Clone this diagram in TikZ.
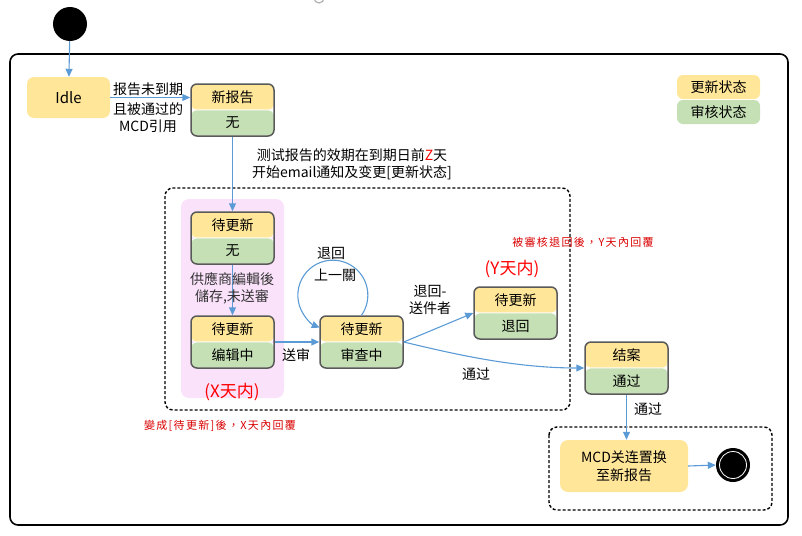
\documentclass[tikz,border=0pt]{standalone}
\usepackage{fontspec}
\setmainfont{Noto Sans CJK SC}
\newfontfamily\tcfont[LetterSpace=12]{Noto Sans CJK TC}
\usetikzlibrary{arrows.meta}
\definecolor{uyel}{RGB}{255,230,153}
\definecolor{ugrn}{RGB}{197,224,180}
\definecolor{ublue}{RGB}{91,155,213}
\definecolor{ugray}{RGB}{89,89,89}
\definecolor{upink}{RGB}{251,226,251}
\definecolor{ured}{RGB}{255,0,0}
\newcommand\usbox[5]{%
  \node[tophalf] (#1t) at (#2,#3-13) {#4};
  \node[bothalf] (#1b) at (#2,#3+13) {#5};
  \node[sbox] (#1) at (#2,#3) {};}
\begin{document}
\begin{tikzpicture}[x=1pt,y=-1pt,
  font=\fontsize{14}{16}\selectfont,
  tophalf/.style={fill=uyel, draw=white, line width=0.8pt, rounded corners=5pt, minimum width=83pt, minimum height=26pt, inner sep=0pt},
  bothalf/.style={fill=ugrn, draw=white, line width=0.8pt, rounded corners=5pt, minimum width=83pt, minimum height=26pt, inner sep=0pt},
  sbox/.style={draw=ugray, line width=1.5pt, rounded corners=6pt, minimum width=83pt, minimum height=52pt, inner sep=0pt},
  arr/.style={draw=ublue, line width=1.1pt, -{Triangle[length=8pt,width=7pt]}},
  region/.style={draw=black, line width=1.4pt, rounded corners=8pt, dash pattern=on 3pt off 2pt},
  lbl/.style={inner sep=0pt, align=center, font=\fontsize{14}{17}\selectfont},
  redbig/.style={inner sep=0pt, text=ured, font=\fontsize{17}{19}\selectfont},
  redsmall/.style={inner sep=0pt, text=ured!85!black, font=\tcfont\fontsize{11}{13}\selectfont},
]
\path[use as bounding box] (0,0) rectangle (802,535);
% top artifact
\draw[gray!60, line width=1.2pt] (319,-2) circle (5pt);
% frames
\draw[black, line width=1.6pt, rounded corners=8pt] (10,54) rectangle (788,525);
\draw[region] (165,188) rectangle (570,410);
\fill[upink, rounded corners=8pt] (181,199) rectangle (284,398);
\draw[region] (549,427) rectangle (772,510);

% nodes
\node[circle, fill=black, minimum size=34pt, inner sep=0pt] (init) at (70,24) {};
\node[fill=uyel, rounded corners=7pt, minimum width=83pt, minimum height=41pt] (idle) at (68.5,97.5) {\fontsize{15}{17}\selectfont Idle};
\node[fill=uyel, rounded corners=6pt, minimum width=83pt, minimum height=24pt] (lg1) at (718.5,87) {更新状态};
\node[fill=ugrn, rounded corners=6pt, minimum width=83pt, minimum height=24pt] (lg2) at (718.5,112) {审核状态};

\usbox{B1}{232.5}{110}{新报告}{无}
\usbox{B2}{232.5}{238}{待更新}{无}
\usbox{B3}{232.5}{342}{待更新}{编辑中}
\usbox{B4}{361.5}{342}{待更新}{审查中}
\usbox{B5}{515.5}{313}{待更新}{退回}
\usbox{B6}{626.5}{368}{结案}{通过}

\node[fill=uyel, rounded corners=8pt, minimum width=128pt, minimum height=52pt, align=center, font=\fontsize{14}{18}\selectfont] (mcd) at (624,466) {MCD关连置换\\至新报告};
\node[circle, fill=black, minimum size=34pt, inner sep=0pt] (fin) at (733,465) {};
\draw[white, line width=0.8pt] (fin.center) circle (13.5pt);

% connectors
\draw[arr] (init) -- (idle);
\draw[arr] (idle.east) -- (idle.east -| B1.west);
\draw[arr] (B1.south) -- (B2.north);
\draw[arr] (B2.south) -- (B3.north);
\draw[arr] (B3.east) -- (B4.west);
\draw[arr] (B4.north) arc[start angle=35, end angle=-248, radius=35];
\draw[arr] (B4.east) -- (B5.west);
\draw[arr] (B4.east) .. controls +(50,12) and +(-70,0) .. (B6.west);
\draw[arr] (B6.south) -- (B6.south |- mcd.north);
\draw[arr] (mcd.east) -- (fin.west);

% labels
\node[lbl] (l1) at (148,89) {报告未到期};
\node[lbl] (l2) at (148,118) {且被通过的\\MCD引用};
\node[lbl] (l3) at (352,164) {测试报告的效期在到期日前\textcolor{ured}{Z}天\\开始email通知及变更[更新状态]};
\node[lbl, text=black!80] (l4) at (232,288) {供應商編輯後\\儲存,未送審};
\node[lbl] (l5) at (296,355) {送审};
\node[lbl] (l6) at (331,253) {退回};
\node[lbl] (l7) at (335,275) {上一關};
\node[lbl] (l8) at (430,300) {退回-\\送件者};
\node[lbl] (l9) at (476,374) {通过};
\node[lbl] (l10) at (648,409) {通过};
\node[redbig] (xin) at (232,392) {(X天内)};
\node[redbig] (yin) at (512,269) {(Y天内)};
\node[redsmall] (r1) at (583,242) {被審核退回後，Y天內回覆};
\node[redsmall] (r2) at (220,426) {變成[待更新]後，X天內回覆};
\end{tikzpicture}
\end{document}
